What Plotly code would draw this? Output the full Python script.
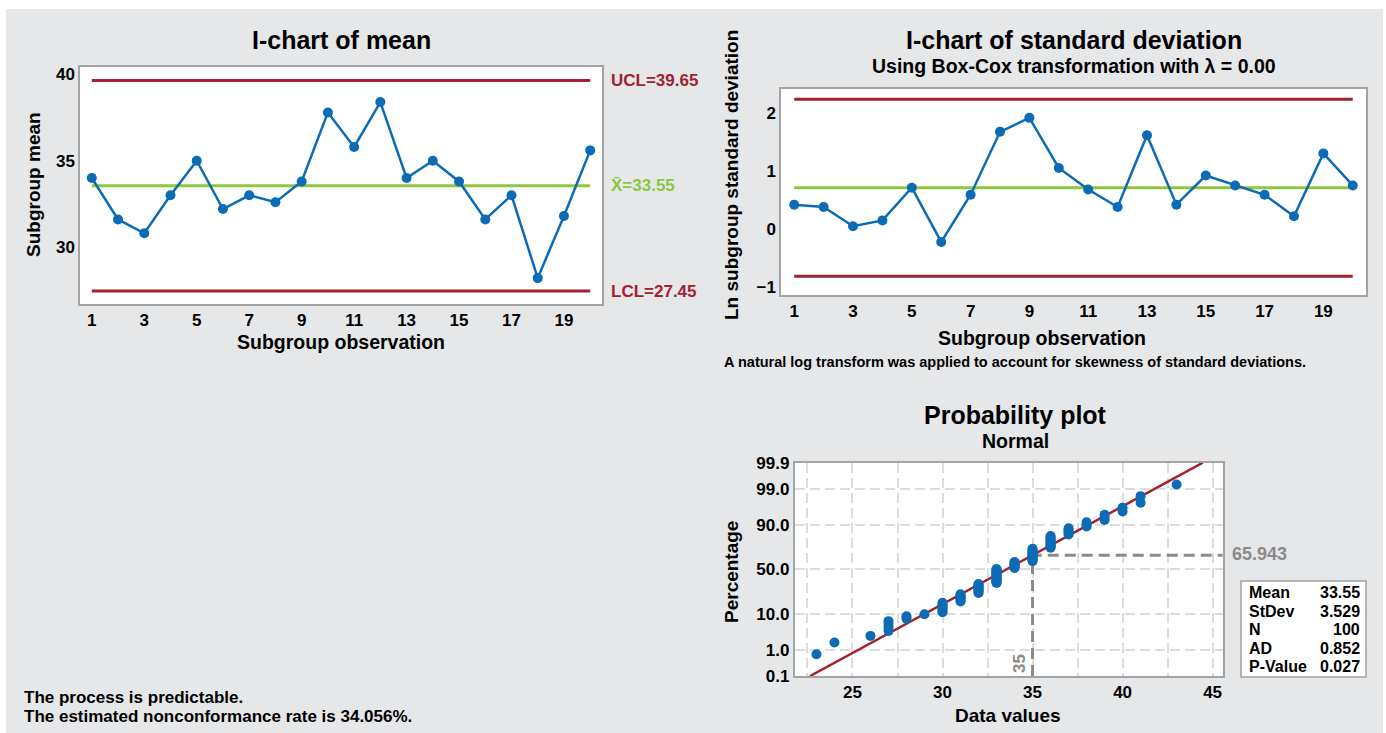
import plotly.graph_objects as go
from statistics import NormalDist

W, H = 1386, 733

# ---------------- data ----------------
obs = list(range(1, 21))
subgroup_mean = [34.0, 31.6, 30.8, 33.0, 35.0, 32.2, 33.0, 32.6, 33.8, 37.8,
                 35.8, 38.4, 34.0, 35.0, 33.8, 31.6, 33.0, 28.2, 31.8, 35.6]
mean_ucl, mean_cl, mean_lcl = 39.65, 33.55, 27.45

ln_sd = [0.42, 0.38, 0.05, 0.15, 0.71, -0.22, 0.59, 1.67, 1.91, 1.05,
         0.68, 0.38, 1.61, 0.42, 0.92, 0.75, 0.59, 0.22, 1.30, 0.75]
sd_ucl, sd_cl, sd_lcl = 2.23, 0.71, -0.81

data_values = [23, 24, 26, 27, 28, 29, 30, 31, 32, 33, 34, 35, 36, 37, 38, 39, 40, 41, 43]
data_counts = [1, 1, 1, 4, 2, 1, 7, 7, 10, 17, 8, 14, 11, 5, 3, 3, 2, 2, 1]
fit_mean, fit_sd = 33.55, 3.529
ref_x, ref_pct = 35, 65.943
pct_ticks = [0.1, 1.0, 10.0, 50.0, 90.0, 99.0, 99.9]
pct_tick_text = ["0.1", "1.0", "10.0", "50.0", "90.0", "99.0", "99.9"]
stats_labels = ["Mean", "StDev", "N", "AD", "P-Value"]
stats_values = ["33.55", "3.529", "100", "0.852", "0.027"]

x_ticks_obs = [1, 3, 5, 7, 9, 11, 13, 15, 17, 19]
mean_ticks = [30, 35, 40]
sd_ticks = [-1, 0, 1, 2]
data_ticks = [25, 30, 35, 40, 45]

# ---------------- styles ----------------
FONT = "Liberation Sans, Arial, sans-serif"
BLUE = "#0b6cb5"
RED = "#a3212f"
GREEN = "#8dc63f"
GRAY_BG = "#e6e7e9"
BORDER = "#a3a3a3"
REFGRAY = "#8a8a8a"
GRID = "#dcdcdc"
nd = NormalDist()


def px(x):
    return x / W


def py(y):
    return 1 - y / H


fig = go.Figure()

# ---- I-chart of mean ----
for val, col in [(mean_ucl, RED), (mean_lcl, RED), (mean_cl, GREEN)]:
    fig.add_trace(go.Scatter(x=[obs[0], obs[-1]], y=[val, val], mode="lines",
                             line=dict(color=col, width=3), xaxis="x", yaxis="y",
                             showlegend=False, hoverinfo="skip"))
fig.add_trace(go.Scatter(x=obs, y=subgroup_mean, mode="lines+markers",
                         line=dict(color=BLUE, width=2.5), marker=dict(color=BLUE, size=10),
                         xaxis="x", yaxis="y", showlegend=False))

# ---- I-chart of standard deviation ----
for val, col in [(sd_ucl, RED), (sd_lcl, RED), (sd_cl, GREEN)]:
    fig.add_trace(go.Scatter(x=[obs[0], obs[-1]], y=[val, val], mode="lines",
                             line=dict(color=col, width=3), xaxis="x2", yaxis="y2",
                             showlegend=False, hoverinfo="skip"))
fig.add_trace(go.Scatter(x=obs, y=ln_sd, mode="lines+markers",
                         line=dict(color=BLUE, width=2.5), marker=dict(color=BLUE, size=10),
                         xaxis="x2", yaxis="y2", showlegend=False))

# ---- Probability plot ----
vals = []
for v, c in zip(data_values, data_counts):
    vals += [v] * c
n = len(vals)
zs = [nd.inv_cdf((i + 1 - 0.3) / (n + 0.4)) for i in range(n)]
z_lo, z_hi = nd.inv_cdf(0.001), nd.inv_cdf(0.999)
x_range3 = [21.78, 45.56]

fig.add_trace(go.Scatter(x=[fit_mean + z_lo * fit_sd, fit_mean + z_hi * fit_sd], y=[z_lo, z_hi],
                         mode="lines", line=dict(color=RED, width=2.5),
                         xaxis="x3", yaxis="y3", showlegend=False, hoverinfo="skip"))
z_ref = nd.inv_cdf(ref_pct / 100)
fig.add_trace(go.Scatter(x=[ref_x, ref_x, x_range3[1]], y=[z_lo, z_ref, z_ref], mode="lines",
                         line=dict(color=REFGRAY, width=3, dash="11px,6px"),
                         xaxis="x3", yaxis="y3", showlegend=False, hoverinfo="skip",
                         cliponaxis=False))
fig.add_trace(go.Scatter(x=vals, y=zs, mode="markers", marker=dict(color=BLUE, size=10),
                         xaxis="x3", yaxis="y3", showlegend=False))

tickfont = dict(family=FONT, size=17, color="black", weight="bold")
common = dict(showline=True, mirror=True, linecolor=BORDER, linewidth=1.5, zeroline=False,
              ticks="", tickfont=tickfont, fixedrange=True, automargin=False)

fig.update_layout(
    width=W, height=H, autosize=False,
    margin=dict(l=0, r=0, t=0, b=0, pad=0, autoexpand=False),
    paper_bgcolor=GRAY_BG, plot_bgcolor="white",
    font=dict(family=FONT, color="black"),
    showlegend=False,
    xaxis=dict(domain=[px(80), px(602)], range=[0.55, 20.45], tickvals=x_ticks_obs,
               showgrid=False, anchor="y", **common),
    yaxis=dict(domain=[py(304), py(66.7)], range=[26.7, 40.45], tickvals=mean_ticks,
               showgrid=False, anchor="x", **common),
    xaxis2=dict(domain=[px(781), px(1366)], range=[0.55, 20.45], tickvals=x_ticks_obs,
                showgrid=False, anchor="y2", **common),
    yaxis2=dict(domain=[py(295), py(88.7)], range=[-1.13, 2.41], tickvals=sd_ticks,
                showgrid=False, anchor="x2", **common),
    xaxis3=dict(domain=[px(794.5), px(1222.7)], range=x_range3, tickvals=data_ticks,
                showgrid=True, gridcolor=GRID, griddash="10px,5px", gridwidth=1.5,
                minor=dict(dtick=2.5, tick0=0, showgrid=True, gridcolor=GRID,
                           griddash="10px,5px", gridwidth=1.5),
                anchor="y3", **common),
    yaxis3=dict(domain=[py(676), py(462.7)], range=[z_lo, z_hi],
                tickvals=[nd.inv_cdf(p / 100) for p in pct_ticks], ticktext=pct_tick_text,
                showgrid=True, gridcolor=GRID, griddash="10px,5px", gridwidth=1.5,
                anchor="x3", **common),
)

# white page edges
fig.add_shape(type="rect", xref="paper", yref="paper", x0=0, x1=1, y0=py(9), y1=1,
              fillcolor="white", line_width=0)
fig.add_shape(type="rect", xref="paper", yref="paper", x0=0, x1=px(6), y0=0, y1=1,
              fillcolor="white", line_width=0)
fig.add_shape(type="rect", xref="paper", yref="paper", x0=px(1383), x1=1, y0=0, y1=1,
              fillcolor="white", line_width=0)

# stats box
fig.add_shape(type="rect", xref="paper", yref="paper", x0=px(1241), x1=px(1366),
              y0=py(677), y1=py(581), fillcolor="white", line=dict(color=BORDER, width=1.5))


def ann(text, x, y, size, color="black", xanchor="center", yanchor="middle", angle=0,
        yref="paper"):
    fig.add_annotation(text=text, x=px(x), y=(py(y) if yref == "paper" else y), xref="paper",
                       yref=yref, showarrow=False, xanchor=xanchor, yanchor=yanchor,
                       textangle=angle,
                       font=dict(family=FONT, size=size, color=color, weight="bold"))


# titles
ann("I-chart of mean", 341, 40, 25)
ann("I-chart of standard deviation", 1074, 40, 25)
ann("Using Box-Cox transformation with λ = 0.00", 1074, 66, 19.5)
ann("Probability plot", 1015, 415, 25)
ann("Normal", 1015, 441, 19.5)

# axis titles
ann("Subgroup mean", 33, 185, 19, angle=-90)
ann("Subgroup observation", 341, 342, 19.5)
ann("Ln subgroup standard deviation", 732, 175, 19, angle=-90)
ann("Subgroup observation", 1042, 338, 19.5)
ann("Percentage", 731, 572, 19, angle=-90)
ann("Data values", 1008, 715, 19)

# control limit labels
fig.add_annotation(text=f"UCL={mean_ucl:.2f}", x=px(609), y=mean_ucl, xref="paper", yref="y",
                   showarrow=False, xanchor="left", yanchor="middle",
                   font=dict(family=FONT, size=17, color=RED, weight="bold"))
fig.add_annotation(text=f"X\u0304={mean_cl:.2f}", x=px(609), y=mean_cl, xref="paper", yref="y",
                   showarrow=False, xanchor="left", yanchor="middle",
                   font=dict(family=FONT, size=17, color=GREEN, weight="bold"))
fig.add_annotation(text=f"LCL={mean_lcl:.2f}", x=px(609), y=mean_lcl, xref="paper", yref="y",
                   showarrow=False, xanchor="left", yanchor="middle",
                   font=dict(family=FONT, size=17, color=RED, weight="bold"))

# notes
ann("A natural log transform was applied to account for skewness of standard deviations.",
    722, 362, 14.5, xanchor="left")
ann("The process is predictable.", 22, 697, 17, xanchor="left")
ann("The estimated nonconformance rate is 34.056%.", 22, 716, 17, xanchor="left")

# reference labels
ann(f"{ref_pct:.3f}", 1230, 554, 18, color=REFGRAY, xanchor="left")
ann(f"{ref_x}", 1019, 664, 17, color=REFGRAY, angle=-90)

# stats table
row_y = [592, 611, 629, 648, 666]
for lab, val, yy in zip(stats_labels, stats_values, row_y):
    ann(lab, 1247, yy, 16, xanchor="left")
    ann(val, 1362, yy, 16, xanchor="right")

fig.write_html(
    "out.html",
    config={"displayModeBar": False},
    post_script="document.body.style.margin='0';document.body.style.overflow='hidden';",
)
